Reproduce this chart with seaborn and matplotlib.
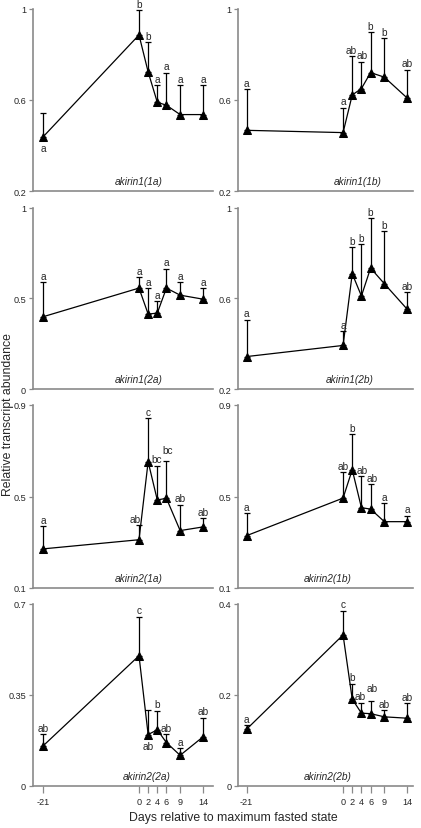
import numpy as np
import pandas as pd
import matplotlib
matplotlib.use("Agg")
import matplotlib.pyplot as plt
import seaborn as sns

days = [-21, 0, 2, 4, 6, 9, 14]
xtick_labels = ["-21", "0", "2", "4", "6", "9", "14"]

genes = ["akirin1(1a)", "akirin1(1b)", "akirin1(2a)", "akirin1(2b)",
         "akirin2(1a)", "akirin2(1b)", "akirin2(2a)", "akirin2(2b)"]

mean_1a = [0.437, 0.884, 0.722, 0.589, 0.576, 0.535, 0.535]
upper_1a = [0.541, 0.993, 0.851, 0.664, 0.719, 0.664, 0.665]
let_1a = ["a", "b", "b", "a", "a", "a", "a"]

mean_1b = [0.466, 0.456, 0.621, 0.649, 0.719, 0.699, 0.607]
upper_1b = [0.646, 0.566, 0.792, 0.767, 0.895, 0.871, 0.731]
let_1b = ["a", "a", "ab", "ab", "b", "b", "ab"]

mean_2a1 = [0.398, 0.556, 0.413, 0.418, 0.556, 0.517, 0.495]
upper_2a1 = [0.587, 0.615, 0.554, 0.483, 0.662, 0.587, 0.554]
let_2a1 = ["a", "a", "a", "a", "a", "a", "a"]

mean_2b1 = [0.343, 0.392, 0.708, 0.610, 0.733, 0.664, 0.551]
upper_2b1 = [0.506, 0.455, 0.826, 0.838, 0.954, 0.895, 0.626]
let_2b1 = ["a", "a", "b", "b", "b", "b", "ab"]

mean_a2_1a = [0.271, 0.311, 0.652, 0.485, 0.492, 0.351, 0.367]
upper_a2_1a = [0.371, 0.375, 0.842, 0.635, 0.655, 0.464, 0.405]
let_a2_1a = ["a", "ab", "c", "bc", "bc", "ab", "ab"]

mean_a2_1b = [0.329, 0.493, 0.617, 0.451, 0.445, 0.390, 0.390]
upper_a2_1b = [0.426, 0.606, 0.773, 0.588, 0.555, 0.472, 0.416]
let_a2_1b = ["a", "ab", "b", "ab", "ab", "a", "a"]

mean_a2_2a = [0.154, 0.501, 0.198, 0.216, 0.167, 0.118, 0.189]
upper_a2_2a = [0.199, 0.651, 0.293, 0.289, 0.200, 0.145, 0.263]
let_a2_2a = ["ab", "c", "ab", "b", "ab", "a", "ab"]

mean_a2_2b = [0.125, 0.332, 0.191, 0.160, 0.159, 0.152, 0.149]
upper_a2_2b = [0.134, 0.385, 0.225, 0.183, 0.187, 0.167, 0.182]
let_a2_2b = ["a", "c", "b", "ab", "ab", "ab", "ab"]

means = [mean_1a, mean_1b, mean_2a1, mean_2b1, mean_a2_1a, mean_a2_1b, mean_a2_2a, mean_a2_2b]
uppers = [upper_1a, upper_1b, upper_2a1, upper_2b1, upper_a2_1a, upper_a2_1b, upper_a2_2a, upper_a2_2b]
letters = [let_1a, let_1b, let_2a1, let_2b1, let_a2_1a, let_a2_1b, let_a2_2a, let_a2_2b]

yticks = [[0.2, 0.6, 1.0], [0.2, 0.6, 1.0], [0.0, 0.5, 1.0], [0.2, 0.6, 1.0],
          [0.1, 0.5, 0.9], [0.1, 0.5, 0.9], [0.0, 0.35, 0.7], [0.0, 0.2, 0.4]]
ytick_labels = [["0.2", "0.6", "1"], ["0.2", "0.6", "1"], ["0", "0.5", "1"], ["0.2", "0.6", "1"],
                ["0.1", "0.5", "0.9"], ["0.1", "0.5", "0.9"], ["0", "0.35", "0.7"], ["0", "0.2", "0.4"]]

# layout (not data)
below = {(0, 0), (6, 2)}
label_shift = {(7, 3): (-1.0, 0.0), (7, 4): (1.0, 4.5), (4, 1): (-2.5, 0.0),
               (4, 3): (-0.8, 0.0), (4, 4): (0.8, 3.0), (5, 3): (0.8, 0.0),
               (5, 4): (1.0, 0.0), (1, 2): (-0.8, 0.0), (1, 3): (0.5, 0.0)}
name_x = [0.585, 0.686, 0.59, 0.64, 0.59, 0.51, 0.63, 0.51]

sns.set_style("white")
plt.rcParams["font.family"] = ["Liberation Sans", "DejaVu Sans"]

W, H = 421, 829
fig = plt.figure(figsize=(W / 100, H / 100), dpi=100)

rows_px = [(9.5, 192), (208.5, 390), (406, 589), (605, 787)]
cols_px = [(33, 213, (-23.19, 16.19)), (238.3, 413, (-22.83, 15.24))]
gray = "#8a8a8a"

for i in range(8):
    r, c = divmod(i, 2)
    top, bot = rows_px[r]
    lft, rgt, xl = cols_px[c]
    ax = fig.add_axes([lft / W, 1 - bot / H, (rgt - lft) / W, (bot - top) / H])
    df = pd.DataFrame({"day": days, "value": means[i]})
    m = np.array(means[i])
    u = np.array(uppers[i])
    ax.errorbar(days, m, yerr=[np.zeros_like(m), u - m], fmt="none",
                ecolor="black", elinewidth=0.9, capsize=2.2, capthick=0.9, zorder=2)
    sns.lineplot(data=df, x="day", y="value", ax=ax, color="black", lw=0.9,
                 marker="^", markersize=5.5, markeredgecolor="black",
                 markerfacecolor="black", zorder=3)
    for j, d in enumerate(days):
        dx, dy = label_shift.get((i, j), (0.0, 0.0))
        if (i, j) in below:
            ax.annotate(letters[i][j], (d, m[j]), xytext=(dx, -4.5 + dy), textcoords="offset points",
                        ha="center", va="top", fontsize=7.3)
        else:
            ax.annotate(letters[i][j], (d, u[j]), xytext=(dx, 1.0 + dy), textcoords="offset points",
                        ha="center", va="bottom", fontsize=7.3)
    ax.text(name_x[i], 0.025, genes[i], transform=ax.transAxes, ha="center", va="bottom",
            fontsize=7.3, style="italic")
    ax.set_xlim(*xl)
    ax.set_ylim(yticks[i][0], yticks[i][-1])
    ax.set_yticks(yticks[i])
    ax.set_yticklabels(ytick_labels[i], fontsize=6.6)
    ax.set_xlabel("")
    ax.set_ylabel("")
    for s in ["top", "right"]:
        ax.spines[s].set_visible(False)
    for s in ["left", "bottom"]:
        ax.spines[s].set_color(gray)
        ax.spines[s].set_linewidth(1.2)
    ax.tick_params(axis="y", length=3, width=0.9, color=gray, pad=2, left=True)
    if r == 3:
        ax.set_xticks(days)
        ax.set_xticklabels(xtick_labels, fontsize=6.6)
        ax.tick_params(axis="x", length=5, width=0.9, color=gray, pad=3, bottom=True)
    else:
        ax.set_xticks([])
    ax.set_facecolor("white")

fig.text(8 / W, 1 - 415 / H, "Relative transcript abundance", rotation=90,
         ha="center", va="center", fontsize=8.8)
fig.text(233 / W, 1 - 818 / H, "Days relative to maximum fasted state",
         ha="center", va="center", fontsize=8.8)

fig.savefig("out.png", dpi=100)
